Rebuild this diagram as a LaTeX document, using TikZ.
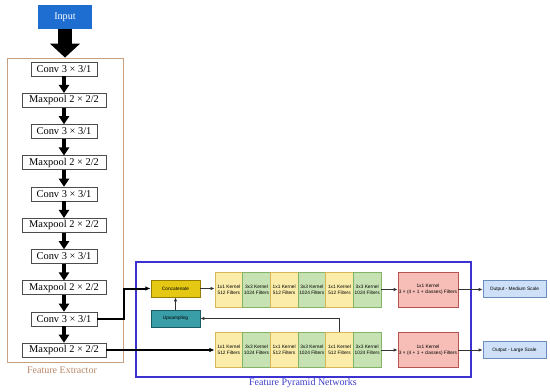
\documentclass[tikz,border=0pt]{standalone}
\usepackage{fontspec}
\setmainfont{Liberation Serif}
\setsansfont{Liberation Sans}
\usepackage{xcolor}
\usetikzlibrary{arrows.meta}

\definecolor{inputblue}{RGB}{30,110,210}
\definecolor{febrown}{RGB}{200,160,130}
\definecolor{fetext}{RGB}{185,135,105}
\definecolor{fpnblue}{RGB}{60,50,210}
\definecolor{fpntext}{RGB}{60,60,200}
\definecolor{concatfill}{RGB}{228,200,20}
\definecolor{concatline}{RGB}{150,125,0}
\definecolor{upfill}{RGB}{58,158,168}
\definecolor{upline}{RGB}{25,90,100}
\definecolor{kyellow}{RGB}{251,236,170}
\definecolor{kyellowline}{RGB}{214,182,86}
\definecolor{kgreen}{RGB}{198,226,178}
\definecolor{kgreenline}{RGB}{130,179,102}
\definecolor{kred}{RGB}{246,190,182}
\definecolor{kredline}{RGB}{184,84,80}
\definecolor{outfill}{RGB}{205,224,247}
\definecolor{outline}{RGB}{108,142,191}

\begin{document}
\begin{tikzpicture}[x=0.75pt,y=0.75pt,yscale=-1,xscale=1,
	layer/.style={draw=black!70, fill=white, inner sep=0pt, minimum height=10.5pt, font=\fontsize{7.8}{9}\selectfont},
	convbox/.style={layer, minimum width=49.5pt},
	poolbox/.style={layer, minimum width=63pt},
	smalltext/.style={font=\sffamily\fontsize{3.6}{4.3}\selectfont, align=center, inner sep=0pt},
	onebyone/.style={smalltext, fill=kyellow, draw=kyellowline, line width=0.5pt, minimum width=20.75pt, minimum height=26.25pt},
	threebythree/.style={smalltext, fill=kgreen, draw=kgreenline, line width=0.5pt, minimum width=20.75pt, minimum height=26.25pt},
	headbox/.style={smalltext, fill=kred, draw=kredline, line width=0.5pt, minimum width=45pt, minimum height=26.25pt},
	outbox/.style={smalltext, fill=outfill, draw=outline, line width=0.5pt, minimum width=47.25pt, minimum height=13pt},
	blockarrow/.style={line width=2.8pt, -{Triangle[width=7.5pt,length=6pt]}},
	feedline/.style={line width=1.5pt, -{Latex[length=4pt,width=3.5pt]}},
	thinarrow/.style={line width=0.6pt, black!80, -{Latex[length=3pt,width=2.6pt]}}
	]
	\path[use as bounding box] (0,0) rectangle (550,392);
	
	%Shape: Rectangle [id:input] 
	\node (input) [fill=inputblue, text=white, inner sep=0pt, minimum width=40.5pt, minimum height=18pt, font=\fontsize{7.6}{9}\selectfont] at (65,17) {Input};
	%Shape: Rectangle [id:extractor] 
	\node (extractor) [draw=febrown, line width=0.6pt, inner sep=0pt, minimum width=87pt, minimum height=228pt] at (65,210) {};
	%Straight Lines [id:bigarrow] 
	\draw [line width=10.5pt, -{Triangle[width=22pt,length=10.5pt]}] (input.south) -- (extractor.north) ;
	
	% Feature extractor layers
	\node (conv1) [convbox] at (64,69) {Conv 3 × 3/1};
	\node (pool1) [poolbox] at (64,100.25) {Maxpool 2 × 2/2};
	\node (conv2) [convbox] at (64,131.5) {Conv 3 × 3/1};
	\node (pool2) [poolbox] at (64,162.75) {Maxpool 2 × 2/2};
	\node (conv3) [convbox] at (64,194) {Conv 3 × 3/1};
	\node (pool3) [poolbox] at (64,225.25) {Maxpool 2 × 2/2};
	\node (conv4) [convbox] at (64,256.5) {Conv 3 × 3/1};
	\node (pool4) [poolbox] at (64,287.75) {Maxpool 2 × 2/2};
	\node (conv5) [convbox] at (64,319) {Conv 3 × 3/1};
	\node (pool5) [poolbox] at (64,350) {Maxpool 2 × 2/2};
	
	%Straight Lines [id:layerarrows] 
	\draw [blockarrow] (conv1) -- (pool1) ;
	\draw [blockarrow] (pool1) -- (conv2) ;
	\draw [blockarrow] (conv2) -- (pool2) ;
	\draw [blockarrow] (pool2) -- (conv3) ;
	\draw [blockarrow] (conv3) -- (pool3) ;
	\draw [blockarrow] (pool3) -- (conv4) ;
	\draw [blockarrow] (conv4) -- (pool4) ;
	\draw [blockarrow] (pool4) -- (conv5) ;
	\draw [blockarrow] (conv5) -- (pool5) ;
	
	% Text Node
	\node (felabel) [text=fetext, font=\fontsize{7.5}{9}\selectfont] at (62,370) {Feature Extractor};
	
	%Shape: Rectangle [id:fpn] 
	\node (fpn) [draw=fpnblue, line width=1pt, inner sep=0pt, minimum width=251.25pt, minimum height=86.25pt] at (303.5,319.5) {};
	% Text Node
	\node (fpnlabel) [text=fpntext, font=\fontsize{7.5}{9}\selectfont] at (303,383) {Feature Pyramid Networks};
	
	%Shape: Rectangle [id:concat] 
	\node (concat) [smalltext, fill=concatfill, draw=concatline, line width=0.6pt, minimum width=36.75pt, minimum height=12.75pt] at (175.5,288.5) {Concatenate};
	%Shape: Rectangle [id:upsample] 
	\node (upsample) [smalltext, fill=upfill, draw=upline, line width=0.6pt, minimum width=36.75pt, minimum height=12.75pt] at (175.5,318.5) {Upsampling};
	
	% Medium scale branch
	\node (top1) [onebyone] at (228.8,289.5) {1x1 Kernel\\512 Filters};
	\node (top2) [threebythree] at (256.5,289.5) {3x3 Kernel\\1024 Filters};
	\node (top3) [onebyone] at (284.2,289.5) {1x1 Kernel\\512 Filters};
	\node (top4) [threebythree] at (311.8,289.5) {3x3 Kernel\\1024 Filters};
	\node (top5) [onebyone] at (339.5,289.5) {1x1 Kernel\\512 Filters};
	\node (top6) [threebythree] at (367.2,289.5) {3x3 Kernel\\1024 Filters};
	\node (head1) [headbox] at (428,289.5) {1x1 Kernel\\3 × (4 + 1 + classes) Filters};
	\node (outmed) [outbox] at (514.5,289) {Output - Medium Scale};
	
	% Large scale branch
	\node (bot1) [onebyone] at (228.8,350) {1x1 Kernel\\512 Filters};
	\node (bot2) [threebythree] at (256.5,350) {3x3 Kernel\\1024 Filters};
	\node (bot3) [onebyone] at (284.2,350) {1x1 Kernel\\512 Filters};
	\node (bot4) [threebythree] at (311.8,350) {3x3 Kernel\\1024 Filters};
	\node (bot5) [onebyone] at (339.5,350) {1x1 Kernel\\512 Filters};
	\node (bot6) [threebythree] at (367.2,350) {3x3 Kernel\\1024 Filters};
	\node (head2) [headbox] at (428,350) {1x1 Kernel\\3 × (4 + 1 + classes) Filters};
	\node (outlarge) [outbox] at (514.5,350) {Output - Large Scale};
	
	%Straight Lines [id:feeds] 
	\draw [feedline] (conv5.east) -- ++(27,0) |- (concat.west) ;
	\draw [feedline] (pool5.east) -- (bot1.west) ;
	%Straight Lines [id:links] 
	\draw [thinarrow] (concat.east) -- (concat.east -| top1.west) ;
	\draw [thinarrow] (top6.east) -- (top6.east -| head1.west) ;
	\draw [thinarrow] (head1.east) -- (head1.east -| outmed.west) ;
	\draw [thinarrow] (bot6.east) -- (head2.west) ;
	\draw [thinarrow] (head2.east) -- (outlarge.west) ;
	\draw [thinarrow] (upsample.north) -- (concat.south) ;
	\draw [thinarrow] (bot5.north) |- (upsample.east) ;
	
\end{tikzpicture}
\end{document}
